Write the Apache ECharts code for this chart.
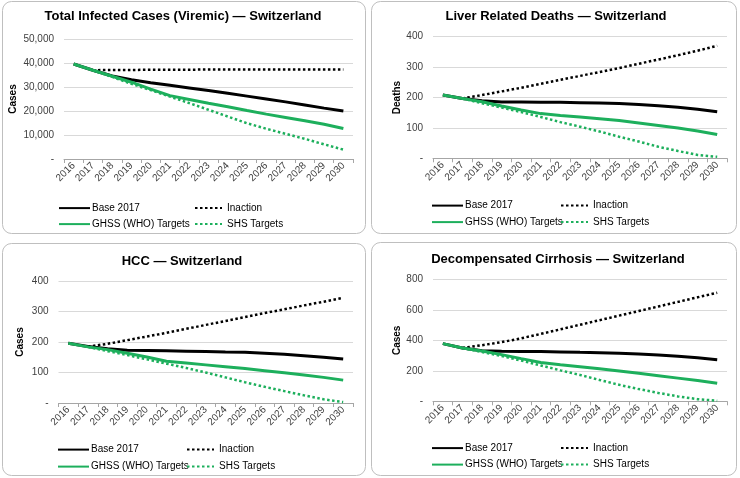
<!DOCTYPE html>
<html>
<head>
<meta charset="utf-8">
<script src="https://cdn.jsdelivr.net/npm/echarts@6/dist/echarts.min.js"></script>
<style>
html,body{margin:0;padding:0;background:#fff;}
#chart{width:740px;height:478px;}
</style>
</head>
<body>
<div id="chart"></div>
<script>
var years = ['2016','2017','2018','2019','2020','2021','2022','2023','2024','2025','2026','2027','2028','2029','2030'];
var seriesNames = ['Base 2017','Inaction','GHSS (WHO) Targets','SHS Targets'];

// Panel 1: Total Infected Cases (Viremic)
var infectedBase     = [39600,37000,34600,33000,31800,30700,29600,28500,27400,26200,25000,23800,22500,21200,20000];
var infectedInaction = [null,37000,37100,37100,37200,37200,37200,37300,37300,37300,37300,37300,37300,37300,37300];
var infectedGHSS     = [39600,37000,34500,32000,29100,26400,24800,23200,21800,20200,18700,17300,15900,14500,12700];
var infectedSHS      = [null,37000,34200,31300,28700,26000,23300,20500,17700,14900,12600,10500,8400,6100,3900];

// Panel 2: Liver Related Deaths
var deathsBase     = [208,197,189,185,185,184,184,183,182,180,177,173,168,161,153];
var deathsInaction = [null,197,208,220,232,245,258,271,284,297,311,325,339,354,370];
var deathsGHSS     = [208,197,186,172,159,147,141,136,130,124,116,108,100,90,78];
var deathsSHS      = [null,197,181,167,152,136,119,104,88,71,55,38,24,11,5];

// Panel 3: HCC
var hccBase     = [196,185,178,173,172,171,170,169,167,166,163,160,155,150,144];
var hccInaction = [null,185,194,206,218,230,243,256,269,282,295,307,320,332,345];
var hccGHSS     = [196,184,175,163,151,137,131,125,119,113,106,99,92,84,75];
var hccSHS      = [null,184,170,157,143,129,115,100,84,68,53,39,25,12,3];

// Panel 4: Decompensated Cirrhosis
var dcBase     = [378,350,332,328,327,326,324,321,319,315,310,303,295,285,273];
var dcInaction = [null,350,368,388,413,442,472,502,532,562,592,622,652,682,712];
var dcGHSS     = [378,350,330,306,280,255,240,227,213,199,184,168,152,136,118];
var dcSHS      = [null,350,323,297,267,235,203,173,140,108,80,55,32,14,4];

var titles = ['Total Infected Cases (Viremic) \u2014 Switzerland','Liver Related Deaths \u2014 Switzerland','HCC \u2014 Switzerland','Decompensated Cirrhosis \u2014 Switzerland'];
var yNames = ['Cases','Deaths','Cases','Cases'];
var yMax = [50000,400,400,800];
var yInterval = [10000,100,100,200];
var panelData = [
  [infectedBase, infectedInaction, infectedGHSS, infectedSHS],
  [deathsBase, deathsInaction, deathsGHSS, deathsSHS],
  [hccBase, hccInaction, hccGHSS, hccSHS],
  [dcBase, dcInaction, dcGHSS, dcSHS]
];

// layout
var boxes = [
  {x:2.5, y:1.5, w:363, h:232},
  {x:371.5, y:1.5, w:365, h:232},
  {x:2.5, y:243.5, w:363, h:232},
  {x:371.5, y:242.5, w:365, h:233}
];
var grids = [
  {left:64, top:39, width:289, height:120},
  {left:433, top:36.7, width:294, height:121.6},
  {left:58.5, top:281, width:294.5, height:122},
  {left:433, top:279.3, width:294, height:122}
];
var titlePos = [[183,16],[556,16],[182,261],[558,259]];
var nameGaps = [46,31,33,31];
var legendRows = [[209.5,225.5],[207,223.5],[451,468],[449.5,466]];
var legendCols = [[58,194],[431,560],[57,186],[431,560]];

var GREEN = '#1DAF5C';
var styles = [
  {color:'#000000', width:3, type:'solid', z:2},
  {color:'#000000', width:2.5, type:[2.5,2.5], z:3},
  {color:GREEN, width:3, type:'solid', z:4},
  {color:GREEN, width:2.5, type:[2.5,2.5], z:5}
];

var FONT = '"Liberation Sans", Arial, sans-serif';
var option = {
  animation:false,
  backgroundColor:'#ffffff',
  textStyle:{fontFamily:FONT},
  grid:[], xAxis:[], yAxis:[], series:[], legend:[], graphic:[]
};

for (var p=0; p<4; p++){
  var g = grids[p];
  option.grid.push({left:g.left, top:g.top, width:g.width, height:g.height});
  option.xAxis.push({
    type:'category', gridIndex:p, data:years, boundaryGap:true,
    axisLine:{lineStyle:{color:'#a6a6a6', width:1}},
    axisTick:{show:true, length:4, lineStyle:{color:'#a6a6a6'}},
    axisLabel:{rotate:45, fontSize:10, color:'#404040', margin:5, interval:0}
  });
  option.yAxis.push({
    type:'value', gridIndex:p, min:0, max:yMax[p], interval:yInterval[p],
    name:yNames[p], nameLocation:'middle', nameGap:nameGaps[p], nameRotate:90,
    nameTextStyle:{fontSize:10, fontWeight:'bold', color:'#000'},
    axisLine:{show:false}, axisTick:{show:false},
    splitLine:{lineStyle:{color:'#d9d9d9', width:1}},
    axisLabel:{fontSize:10, color:'#404040', margin:10,
      formatter:function(v){ return v===0 ? '-' : v.toLocaleString('en-US'); }}
  });
  for (var s=0; s<4; s++){
    var st = styles[s];
    option.series.push({
      type:'line', name:seriesNames[s], xAxisIndex:p, yAxisIndex:p,
      data:panelData[p][s], symbol:'none', showSymbol:false, smooth:false,
      z:st.z, connectNulls:false,
      lineStyle:{color:st.color, width:st.width, type:st.type},
      itemStyle:{color:st.color}
    });
  }
  for (var s2=0; s2<4; s2++){
    var row = s2 < 2 ? 0 : 1;
    var col = s2 % 2;
    option.legend.push({
      data:[seriesNames[s2]], left:legendCols[p][col], top:legendRows[p][row]-7,
      itemWidth: col===0 ? 31 : 27, itemHeight:14, itemGap:0, padding:0,
      selectedMode:false,
      itemStyle:{opacity:0},
      textStyle:{fontSize:10, color:'#000', padding: col===0 ? [0,0,0,-3] : [0,0,0,0]}
    });
  }
  var b = boxes[p];
  option.graphic.push({
    type:'rect', shape:{x:b.x, y:b.y, width:b.w, height:b.h, r:9},
    style:{fill:'none', stroke:'#bfbfbf', lineWidth:1}, z:-1, silent:true
  });
  option.graphic.push({
    type:'text', x:titlePos[p][0], y:titlePos[p][1],
    style:{text:titles[p], textAlign:'center', textVerticalAlign:'middle',
      font:'bold 13px ' + FONT, fill:'#000'}, silent:true
  });
}

var chart = echarts.init(document.getElementById('chart'), null, {renderer:'canvas'});
chart.setOption(option);
</script>
</body>
</html>
